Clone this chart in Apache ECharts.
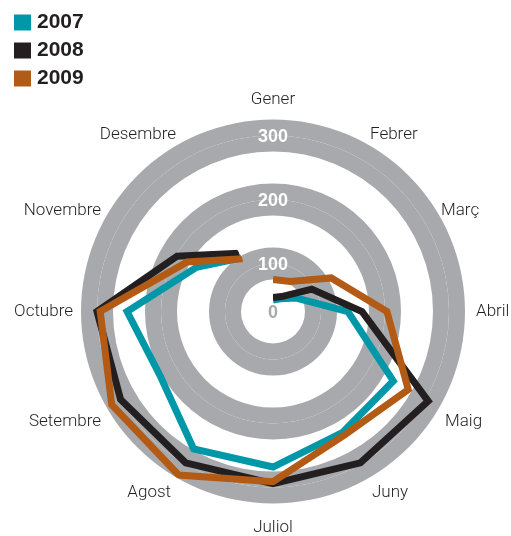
<!DOCTYPE html>
<html>
<head>
<meta charset="utf-8">
<script src="https://cdn.jsdelivr.net/npm/echarts@6/dist/echarts.min.js"></script>
<style>
  html, body { margin: 0; padding: 0; background: #fff; }
  #main { width: 511px; height: 536px; }
</style>
</head>
<body>
<div id="main"></div>
<script>
// mesos i valors llegits del gràfic
var months = ['Gener', 'Febrer', 'Març', 'Abril', 'Maig', 'Juny', 'Juliol', 'Agost', 'Setembre', 'Octubre', 'Novembre', 'Desembre'];
var years = ['2007', '2008', '2009'];
var v2007 = [43, 48, 67, 142, 242, 243, 268, 273, 228, 253, 163, 122];
var v2008 = [47, 52, 95, 164, 305, 298, 294, 298, 300, 300, 198, 130];
var v2009 = [75, 79, 130, 203, 269, 248, 291, 320, 316, 295, 180, 120];
var ringLabels = [100, 200, 300];
var radiusMin = 25, radiusMax = 325;

var colors = ['#0098a9', '#231f20', '#b35b14'];
var gray = '#a7a9ac';

// petits ajustos de posició de cada etiqueta de mes
var labelStyle = {
  'Gener': { padding: [0, 0, 9, 0] },
  'Març': { lineHeight: 8 },
  'Abril': { padding: [0, 0, 0, 9] },
  'Maig': { padding: [5, 0, 0, 4] },
  'Juny': { padding: [5, 0, 0, 2] },
  'Juliol': { padding: [14, 0, 0, 0] },
  'Agost': { padding: [5, 5, 0, 0] },
  'Setembre': { padding: [5, 4, 0, 0] },
  'Octubre': { padding: [0, 6, 0, 0] },
  'Novembre': { lineHeight: 8, padding: [0, 4, 0, 0] }
};

var chart = echarts.init(document.getElementById('main'));

var seriesData = [v2007, v2008, v2009];
var series = years.map(function (y, i) {
  return {
    name: y,
    type: 'line',
    coordinateSystem: 'polar',
    data: seriesData[i],
    symbol: 'none',
    color: colors[i],
    lineStyle: { width: 7, color: colors[i], join: 'miter', cap: 'butt' }
  };
});

chart.setOption({
  animation: false,
  color: colors,
  legend: {
    data: years,
    orient: 'vertical',
    left: 9,
    top: 7,
    itemWidth: 17,
    itemHeight: 16,
    itemGap: 7,
    icon: 'rect',
    itemStyle: { borderWidth: 0 },
    textStyle: {
      fontFamily: 'Liberation Sans',
      fontWeight: 'bold',
      fontSize: 21,
      color: '#231f20',
      padding: [0, 0, 0, 1]
    }
  },
  polar: {
    center: [273, 311.5],
    radius: 192
  },
  angleAxis: {
    type: 'category',
    data: months.map(function (m) {
      return labelStyle[m] ? { value: m, textStyle: labelStyle[m] } : m;
    }),
    boundaryGap: false,
    startAngle: 90,
    clockwise: true,
    axisLine: { show: false },
    axisTick: { show: false },
    splitLine: { show: false },
    axisLabel: {
      margin: 2,
      fontFamily: 'Roboto',
      fontWeight: 300,
      fontSize: 17,
      color: '#231f20'
    }
  },
  radiusAxis: {
    type: 'value',
    min: radiusMin,
    max: radiusMax,
    interval: 25,
    axisLine: { show: false },
    axisTick: { show: false },
    splitLine: { show: false },
    splitArea: {
      show: true,
      areaStyle: { color: ['#ffffff', '#ffffff', gray, gray] }
    },
    axisLabel: {
      margin: 0,
      align: 'center',
      verticalAlign: 'middle',
      showMinLabel: true,
      showMaxLabel: true,
      formatter: function (v) {
        if (v === radiusMin) return '{z|0}';
        return ringLabels.indexOf(v) >= 0 ? '{w|' + v + '}' : '';
      },
      rich: {
        w: { color: '#ffffff', fontWeight: 'bold', fontSize: 18, fontFamily: 'Liberation Sans', padding: [4, 0, 0, 0] },
        z: { color: gray, fontWeight: 'bold', fontSize: 18, fontFamily: 'Liberation Sans', padding: [4, 0, 0, 0] }
      }
    }
  },
  series: series
});
</script>
</body>
</html>
